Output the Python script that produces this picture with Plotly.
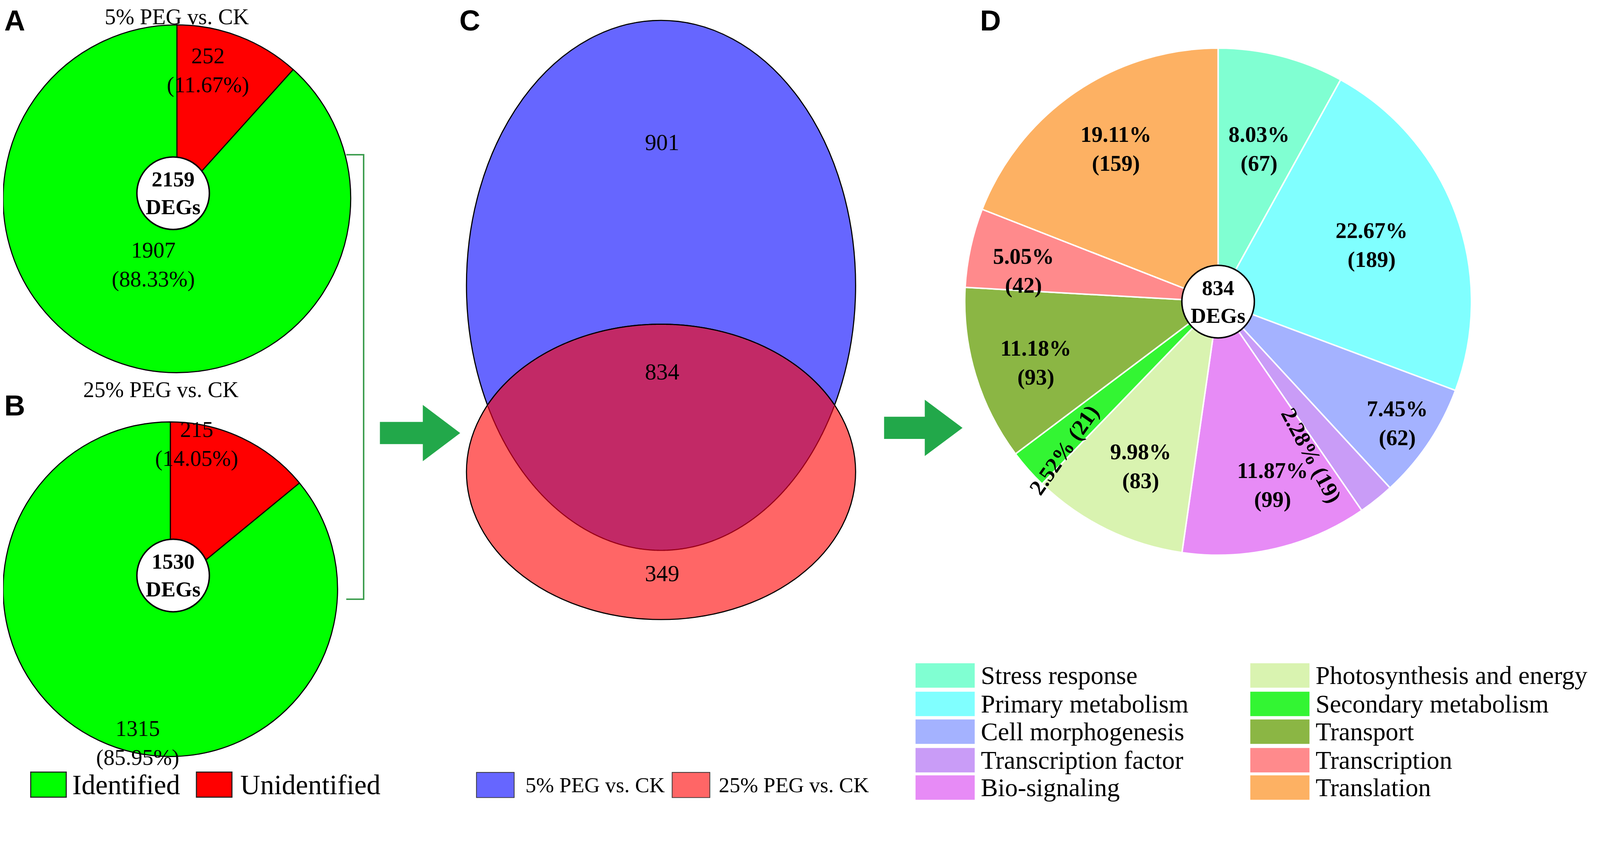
import numpy as np
import plotly.graph_objects as go

# reference canvas (coordinates below are in reference pixels)
W, H = 4317, 2185
S = 0.947   # rendered figure size factor
OFF = 8.4   # compensates the page margin (reference px)

# ---------------- data ----------------
ab_labels = ["Unidentified", "Identified"]
ab_colors = ["#ff0000", "#00ff00"]
a_title = "5% PEG vs. CK"
a_values = [252, 1907]
a_pct = ["11.67%", "88.33%"]
b_title = "25% PEG vs. CK"
b_values = [215, 1315]
b_pct = ["14.05%", "85.95%"]

venn_sets = ["5% PEG vs. CK", "25% PEG vs. CK"]
venn_colors = ["#6666ff", "#ff6666"]
venn_overlap_color = "#c22966"
venn_counts = [901, 834, 349]  # 5% only, shared, 25% only

d_categories = ["Stress response", "Primary metabolism", "Cell morphogenesis",
                "Transcription factor", "Bio-signaling", "Photosynthesis and energy",
                "Secondary metabolism", "Transport", "Transcription", "Translation"]
d_values = [67, 189, 62, 19, 99, 83, 21, 93, 42, 159]
d_pct = ["8.03%", "22.67%", "7.45%", "2.28%", "11.87%", "9.98%",
         "2.52%", "11.18%", "5.05%", "19.11%"]
d_colors = ["#80ffd2", "#80ffff", "#a4b2ff", "#c99cf7", "#e78bf6",
            "#d9f3b0", "#33f533", "#8bb644", "#ff8a8c", "#fdb163"]

# ---------------- layout constants (reference pixels) ----------------
SERIF = "Liberation Serif, Times New Roman, serif"
SANS = "Liberation Sans, Arial, sans-serif"
A_C, A_R = (478, 537), 470
B_C, B_R = (452 + OFF, 1592), 452
D_C, D_R = (3293, 815), 685
ARROW_GREEN = "#22a84a"


def dom(c, r):
    cx, cy = c[0] - OFF, c[1] - OFF
    return dict(x=[max(0, (cx - r) / W), min(1, (cx + r) / W)],
                y=[max(0, 1 - (cy + r) / H), min(1, 1 - (cy - r) / H)])


fig = go.Figure()
fig.add_trace(go.Scatter(x=[OFF, W + OFF], y=[OFF, H + OFF], mode="markers",
                         marker=dict(opacity=0), hoverinfo="skip", showlegend=False))

for vals, c, r in [(a_values, A_C, A_R), (b_values, B_C, B_R)]:
    fig.add_trace(go.Pie(labels=ab_labels, values=vals, sort=False, direction="clockwise",
                         rotation=0, textinfo="none", hoverinfo="label+value",
                         marker=dict(colors=ab_colors, line=dict(color="black", width=3 * S)),
                         domain=dom(c, r), showlegend=False))
fig.add_trace(go.Pie(labels=d_categories, values=d_values, sort=False, direction="clockwise",
                     rotation=0, textinfo="none", hoverinfo="label+value+percent",
                     marker=dict(colors=d_colors, line=dict(color="white", width=4 * S)),
                     domain=dom(D_C, D_R), showlegend=False))

shapes = []
ann = []


def text(x, y, s, size=62, bold=False, family=SERIF, xanchor="center", yanchor="middle",
         angle=0):
    if bold:
        s = "<b>" + s + "</b>"
    ann.append(dict(x=x, y=y, xref="x", yref="y", text=s, showarrow=False,
                    xanchor=xanchor, yanchor=yanchor, textangle=angle,
                    font=dict(family=family, size=size * S, color="black")))


TOP = OFF + 1
# panel letters
text(OFF + 1, TOP, "A", size=78, bold=True, family=SANS, xanchor="left", yanchor="top")
text(OFF + 1, 1096, "B", size=78, bold=True, family=SANS, xanchor="left")
text(1270, TOP, "C", size=78, bold=True, family=SANS, yanchor="top")
text(2677, TOP, "D", size=78, bold=True, family=SANS, yanchor="top")

# titles
text(A_C[0], TOP, a_title, size=60, yanchor="top")
text(435, 1052, b_title, size=60)

# pie A/B labels
a_pos = [(562, 190), (414, 715)]
b_pos = [(532, 1200), (372, 2008)]
for (x, y), v, p in zip(a_pos, a_values, a_pct):
    text(x, y, f"{v}<br>({p})", size=60)
for (x, y), v, p in zip(b_pos, b_values, b_pct):
    text(x, y, f"{v}<br>({p})", size=60)

# central white circles
for (cx, cy), tot in [((468, 522), sum(a_values)), ((468, 1555), sum(b_values)),
                      (D_C, sum(d_values))]:
    shapes.append(dict(type="circle", xref="x", yref="y", x0=cx - 98, x1=cx + 98,
                       y0=cy - 98, y1=cy + 98, fillcolor="white",
                       line=dict(color="black", width=4 * S), layer="above"))
    text(cx, cy, f"{tot}<br>DEGs", size=58, bold=True)

# legend A/B
for (sx, tx), lab, col in zip([(83, 193), (531, 647)], ["Identified", "Unidentified"],
                              [ab_colors[1], ab_colors[0]]):
    shapes.append(dict(type="rect", xref="x", yref="y", x0=sx, x1=sx + 96, y0=2086, y1=2154,
                       fillcolor=col, line=dict(color="#222", width=3 * S)))
    text(tx, 2120, lab, size=75, xanchor="left")

# bracket
shapes.append(dict(type="path", xref="x", yref="y",
                   path="M 936,418 L 983,418 L 983,1619 L 936,1619",
                   line=dict(color="#3a9c4c", width=4 * S)))


def arrow(x0, x1, cy, xh, bh=30, hh=76):
    return (f"M {x0},{cy-bh} L {xh},{cy-bh} L {xh},{cy-hh} L {x1},{cy} "
            f"L {xh},{cy+hh} L {xh},{cy+bh} L {x0},{cy+bh} Z")


for a in [(1027, 1244, 1170, 1143), (2390, 2602, 1156, 2500)]:
    shapes.append(dict(type="path", xref="x", yref="y", path=arrow(*a),
                       fillcolor=ARROW_GREEN, line=dict(width=0)))

# Venn (ellipses)
VB = dict(cx=1787, cy=771, rx=526, ry=716)
VR = dict(cx=1787, cy=1275, rx=526, ry=399)
for v, col in zip([VB, VR], venn_colors):
    shapes.append(dict(type="circle", xref="x", yref="y", x0=v["cx"] - v["rx"],
                       x1=v["cx"] + v["rx"], y0=v["cy"] - v["ry"], y1=v["cy"] + v["ry"],
                       fillcolor=col, line=dict(color="black", width=3 * S)))
t = np.linspace(-1, 1, 801)
s = np.sqrt(1 - t ** 2)
xr = VR["cx"] + VR["rx"] * t
top = VR["cy"] - VR["ry"] * s
xb = VB["cx"] + VB["rx"] * t
bot = VB["cy"] + VB["ry"] * s
mask = top < bot
xt, yt = xr[mask], top[mask]
xbm, ybm = xb[mask][::-1], bot[mask][::-1]
lens = "M " + " L ".join(f"{x:.1f},{y:.1f}" for x, y in zip(np.r_[xt, xbm], np.r_[yt, ybm])) + " Z"
shapes.append(dict(type="path", xref="x", yref="y", path=lens,
                   fillcolor=venn_overlap_color, line=dict(width=0)))
shapes.append(dict(type="path", xref="x", yref="y",
                   path="M " + " L ".join(f"{x:.1f},{y:.1f}" for x, y in zip(xt, yt)),
                   line=dict(color="black", width=3 * S)))
shapes.append(dict(type="path", xref="x", yref="y",
                   path="M " + " L ".join(f"{x:.1f},{y:.1f}" for x, y in zip(xbm, ybm)),
                   line=dict(color="#9a0018", width=3 * S)))
for (x, y), c in zip([(1790, 385), (1790, 1005), (1790, 1550)], venn_counts):
    text(x, y, str(c), size=62)

# Venn legend
for (sx, tx), lab, col in zip([(1288, 1418), (1817, 1941)], venn_sets, venn_colors):
    shapes.append(dict(type="rect", xref="x", yref="y", x0=sx, x1=sx + 102, y0=2087, y1=2155,
                       fillcolor=col, line=dict(color="#333", width=2 * S)))
    text(tx, 2121, lab, size=58, xanchor="left")

# pie D labels
d_pos = [(3403, 402), (3708, 662), (3777, 1144), (3545, 1230), (3440, 1310),
         (3083, 1260), (2877, 1216), (2800, 980), (2767, 732), (3017, 402)]
d_rot = [0, 0, 0, 62, 0, 0, -55, 0, 0, 0]
for (x, y), v, p, rot in zip(d_pos, d_values, d_pct, d_rot):
    s_ = f"{p} ({v})" if rot else f"{p}<br>({v})"
    text(x, y, s_, size=60, bold=True, angle=rot)

# legend D
rows_y = [1825, 1902, 1977, 2054, 2128]
for i, (cat, col) in enumerate(zip(d_categories, d_colors)):
    colx = 0 if i < 5 else 1
    y = rows_y[i % 5]
    sx = [2475, 3380][colx]
    shapes.append(dict(type="rect", xref="x", yref="y", x0=sx, x1=sx + 160, y0=y - 33,
                       y1=y + 33, fillcolor=col, line=dict(width=0)))
    text(sx + 175, y, cat, size=69, xanchor="left")

fig.update_layout(width=round(W * S), height=round(H * S), margin=dict(l=0, r=0, t=0, b=0),
                  paper_bgcolor="white", plot_bgcolor="white",
                  xaxis=dict(range=[OFF, W + OFF], visible=False, fixedrange=True),
                  yaxis=dict(range=[H + OFF, OFF], visible=False, fixedrange=True),
                  shapes=shapes, annotations=ann, showlegend=False)
fig.write_html("out.html")
